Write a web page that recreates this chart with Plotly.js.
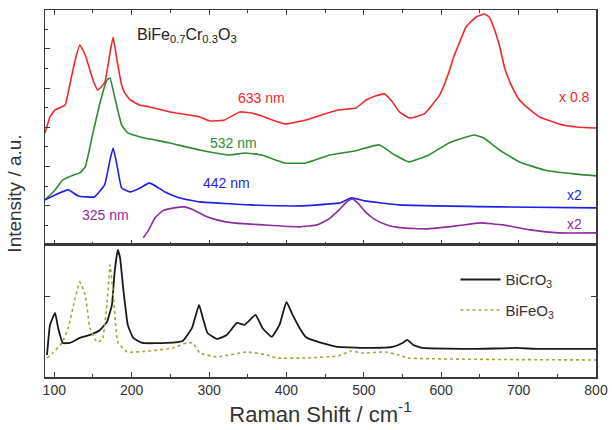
<!DOCTYPE html>
<html>
<head>
<meta charset="utf-8">
<script src="https://cdn.plot.ly/plotly-3.0.1.min.js"></script>
<style>html,body{margin:0;padding:0;background:#fff;}#chart{width:612px;height:430px;}</style>
</head>
<body>
<div id="chart"></div>
<script>
// ---- Upper panel: BiFe0.7Cr0.3O3 at four excitation wavelengths (offset, a.u.) ----
const red633_x = [88, 94.5, 101, 114, 120, 127, 133, 140, 146, 151, 156, 165, 172, 176, 181, 187, 191, 198, 210, 223, 250, 288, 301, 320, 340, 355, 368, 398, 425, 445, 467, 490, 503, 515, 527, 537, 546, 559, 578, 598, 610, 617, 625, 632, 645, 656, 662, 669, 676, 682, 691, 701, 715, 727, 752, 775, 800];
const red633_y = [112, 128, 135, 140, 160, 185, 200, 190, 175, 163, 155, 162, 192, 208, 185, 160, 152, 145, 140, 138, 133, 128, 124, 125, 133, 132, 129, 121, 125, 130, 135, 137, 145, 149, 151, 143, 133, 127, 131, 150, 173, 190, 205, 218, 228, 231, 228, 215, 197, 177, 159, 145, 135, 128, 121, 118, 117];

const green532_x = [88, 101, 111, 125, 133, 140, 150, 159, 168, 172, 178, 187, 195, 211, 249, 288, 327, 346, 368, 398, 425, 456, 488, 520, 540, 559, 584, 610, 642, 655, 675, 701, 733, 772, 800];
const green532_y = [45, 55, 65, 70, 72, 78, 112, 142, 165, 167, 148, 120, 112, 108, 102, 95, 90, 92, 90, 82, 82, 90, 94, 100, 90, 83, 90, 102, 110, 107, 95, 83, 75, 71, 69];

const blue442_x = [88, 101, 118, 131, 152, 165, 172, 176, 181, 187, 198, 211, 223, 243, 262, 288, 353, 417, 440, 469, 484, 501, 546, 675, 800];
const blue442_y = [45, 50, 55, 49, 48, 60, 85, 97, 80, 57, 53, 57, 62, 53, 47, 43, 40, 39, 40, 42, 47, 44, 40, 38, 37];

const purple325_x = [215, 222, 230, 240, 255, 268, 280, 295, 310, 331, 370, 417, 440, 455, 468, 478, 485, 492, 502, 515, 530, 550, 580, 620, 650, 680, 715, 752, 800];
const purple325_y = [7, 15, 27, 34, 37, 38, 35, 29, 25, 22, 20, 18, 20, 26, 35, 43, 46, 42, 33, 25, 20, 17, 16, 19, 22, 20, 15, 12, 12];

// ---- Lower panel: reference compounds ----
const bicro3_x = [90.6, 94.5, 101, 105, 111, 120, 133, 146, 159, 168, 174.5, 178, 182, 185, 189, 195, 202, 214, 245, 266, 278, 287, 292, 298, 310, 323, 336, 346, 360, 369, 381, 391, 400, 408, 417, 425, 441, 467, 511, 537, 550, 556, 564, 576, 640, 697, 726, 800];
const bicro3_y = [22, 52, 64, 49, 34, 34, 39, 42, 47, 55, 72, 105, 127, 119, 89, 52, 39, 34, 34, 36, 49, 72, 59, 44, 38, 42, 54, 52, 62, 49, 40, 52, 75, 62, 49, 40, 35, 30, 29, 30, 34, 37, 32, 29, 28, 29, 28, 28];

const bifeo3_x = [90.6, 98, 110, 118, 127, 133, 140, 146, 155, 162, 168, 172, 176, 182, 194, 223, 253, 271, 279, 288, 310, 349, 375, 387, 425, 467, 483, 498, 528, 545, 557, 800];
const bifeo3_y = [19, 24, 34, 49, 79, 95, 82, 49, 35, 37, 72, 112, 85, 35, 25, 26, 29, 34, 34, 24, 20, 25, 22, 19, 19, 21, 26, 24, 25, 22, 19, 17];

const xTickVals = [100, 200, 300, 400, 500, 600, 700, 800];

const FONT = 'Liberation Sans, Arial, sans-serif';
const SM = 0.35;
const traces = [
  {x: red633_x, y: red633_y, xaxis: 'x2', yaxis: 'y2', mode: 'lines', line: {color: '#f0282d', width: 1.6, shape: 'spline', smoothing: SM}, showlegend: false},
  {x: green532_x, y: green532_y, xaxis: 'x2', yaxis: 'y2', mode: 'lines', line: {color: '#2e8b34', width: 1.6, shape: 'spline', smoothing: SM}, showlegend: false},
  {x: blue442_x, y: blue442_y, xaxis: 'x2', yaxis: 'y2', mode: 'lines', line: {color: '#1f1fe6', width: 1.6, shape: 'spline', smoothing: SM}, showlegend: false},
  {x: purple325_x, y: purple325_y, xaxis: 'x2', yaxis: 'y2', mode: 'lines', line: {color: '#8b2d9e', width: 1.6, shape: 'spline', smoothing: SM}, showlegend: false},
  {x: bicro3_x, y: bicro3_y, xaxis: 'x', yaxis: 'y', mode: 'lines', name: 'BiCrO<sub>3</sub>', legendgroup: 'a', line: {color: '#1a1a1a', width: 1.8, shape: 'spline', smoothing: SM}},
  {x: bifeo3_x, y: bifeo3_y, xaxis: 'x', yaxis: 'y', mode: 'lines', name: 'BiFeO<sub>3</sub>', legendgroup: 'b', line: {color: '#a6a63a', width: 1.6, dash: 'dot', shape: 'spline', smoothing: SM}}
];

const axisCommon = {
  showgrid: false, zeroline: false, showline: true, linecolor: '#3a3a3a', linewidth: 1.5,
  ticks: 'inside', tickcolor: '#3a3a3a', ticklen: 5, tickwidth: 1
};

const layout = {
  width: 612, height: 430,
  margin: {l: 45, r: 16, t: 10, b: 53},
  paper_bgcolor: '#ffffff', plot_bgcolor: '#ffffff',
  font: {family: FONT, color: '#333333', size: 14},
  showlegend: true,
  legend: {x: 0.745, y: 0.31, xanchor: 'left', yanchor: 'top', bgcolor: 'rgba(0,0,0,0)', font: {size: 15, color: '#333'}, traceorder: 'grouped', tracegroupgap: 8, itemwidth: 40},
  xaxis: Object.assign({}, axisCommon, {
    domain: [0, 1], range: [88, 800], anchor: 'y', mirror: true,
    tickvals: xTickVals, ticktext: xTickVals.map(String),
    tickfont: {size: 14, color: '#333'},
    minor: {dtick: 50, tick0: 0, ticks: 'inside', ticklen: 3, tickcolor: '#3a3a3a'},
    title: {text: 'Raman Shift / cm<sup>-1</sup>', font: {size: 22, color: '#333'}, standoff: 3}
  }),
  yaxis: Object.assign({}, axisCommon, {
    domain: [0, 0.36], range: [0, 132], anchor: 'x', mirror: 'ticks',
    dtick: 80, showticklabels: false
  }),
  xaxis2: Object.assign({}, axisCommon, {
    domain: [0, 1], range: [88, 800], anchor: 'y2', matches: 'x', mirror: 'ticks',
    tickvals: xTickVals, showticklabels: false,
    minor: {dtick: 50, tick0: 0, ticks: 'inside', ticklen: 3, tickcolor: '#3a3a3a'}
  }),
  yaxis2: Object.assign({}, axisCommon, {
    domain: [0.36, 1], range: [0, 235], anchor: 'x2', mirror: true,
    dtick: 39.2, showticklabels: false,
    minor: {dtick: 19.6, ticks: 'inside', ticklen: 3, tickcolor: '#3a3a3a'}
  }),
  annotations: [
    {xref: 'paper', yref: 'paper', x: -0.056, y: 0.5, text: 'Intensity / a.u.', textangle: -90, showarrow: false, font: {size: 19, color: '#333'}, xanchor: 'center', yanchor: 'middle'},
    {xref: 'x2', yref: 'y2', x: 204, y: 209, text: 'BiFe<sub>0.7</sub>Cr<sub>0.3</sub>O<sub>3</sub>', showarrow: false, xanchor: 'left', font: {size: 16, color: '#222'}},
    {xref: 'x2', yref: 'y2', x: 368, y: 147, text: '633 nm', showarrow: false, font: {size: 14, color: '#f0282d'}},
    {xref: 'x2', yref: 'y2', x: 331, y: 102, text: '532 nm', showarrow: false, font: {size: 14, color: '#2e8b34'}},
    {xref: 'x2', yref: 'y2', x: 323, y: 62, text: '442 nm', showarrow: false, font: {size: 14, color: '#1f1fe6'}},
    {xref: 'x2', yref: 'y2', x: 166, y: 30, text: '325 nm', showarrow: false, font: {size: 14, color: '#8b2d9e'}},
    {xref: 'x2', yref: 'y2', x: 795, y: 148, text: 'x 0.8', showarrow: false, xanchor: 'right', font: {size: 14, color: '#f0282d'}},
    {xref: 'x2', yref: 'y2', x: 785, y: 50, text: 'x2', showarrow: false, xanchor: 'right', font: {size: 14, color: '#1f1fe6'}},
    {xref: 'x2', yref: 'y2', x: 785, y: 21, text: 'x2', showarrow: false, xanchor: 'right', font: {size: 14, color: '#8b2d9e'}}
  ]
};

Plotly.newPlot('chart', traces, layout, {displayModeBar: false, staticPlot: true});
</script>
</body>
</html>
